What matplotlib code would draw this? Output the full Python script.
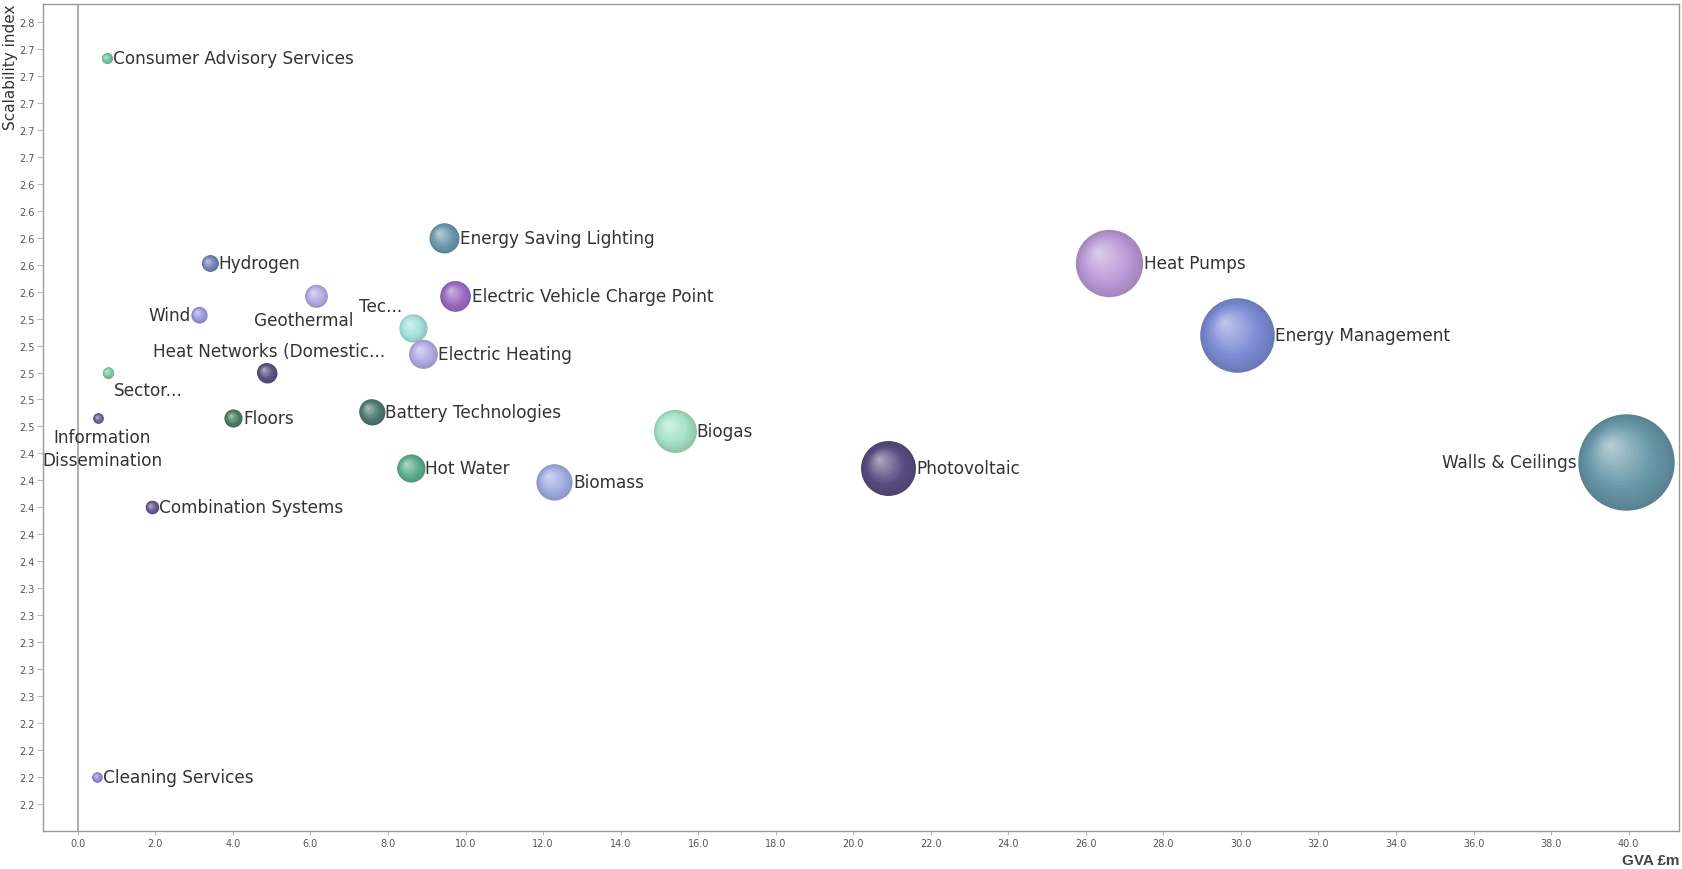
import numpy as np
import matplotlib
matplotlib.use("Agg")
from matplotlib import pyplot as plt
from matplotlib.colors import to_rgb
from matplotlib.ticker import FixedLocator, MultipleLocator, FormatStrFormatter
from matplotlib.transforms import offset_copy

# data
categories = ["Consumer Advisory Services", "Energy Saving Lighting", "Hydrogen", "Heat Pumps",
              "Geothermal", "Electric Vehicle Charge Point", "Wind", "Tec...", "Energy Management",
              "Electric Heating", "Sector...", "Heat Networks (Domestic...", "Battery Technologies",
              "Information\nDissemination", "Floors", "Biogas", "Walls & Ceilings", "Hot Water",
              "Photovoltaic", "Biomass", "Combination Systems", "Cleaning Services"]
gva = [0.75, 9.44, 3.40, 26.6, 6.15, 9.74, 3.13, 8.64, 29.9, 8.91, 0.78, 4.87, 7.58,
       0.53, 4.01, 15.39, 39.92, 8.58, 20.9, 12.29, 1.91, 0.50]
scalability = [2.733, 2.600, 2.581, 2.581, 2.557, 2.557, 2.543, 2.533, 2.528, 2.514, 2.500, 2.500,
               2.471, 2.466, 2.466, 2.457, 2.434, 2.429, 2.429, 2.419, 2.400, 2.200]

colors = ["#6fc2a0", "#6e98ae", "#7483b6", "#bb9ad8", "#b6abe2", "#9a6cc2", "#9c98e0", "#a6e2dc",
          "#7c8cd4", "#b2ace6", "#7ccaa8", "#5c5282", "#4e7a70", "#6c5c98", "#4f7c66", "#a6e3c6",
          "#6897a8", "#5cae8e", "#594c80", "#a0ade2", "#675890", "#9884d6"]

# label placement: (dx, dy) in px, ha ; None -> right of bubble
placement = {
    "Wind": "left",
    "Walls & Ceilings": "left",
    "Geothermal": (-13, -24, "center"),
    "Tec...": (-11, 22, "right"),
    "Heat Networks (Domestic...": (2, 22, "center"),
    "Sector...": (6, -17, "left"),
    "Information\nDissemination": (4, -30, "center"),
}

px2pt = 0.72  # dpi 100


def radius_px(v):
    # bubble radius grows linearly with GVA
    return 4.7 + 1.09 * v


fig = plt.figure(figsize=(16.82, 8.70), dpi=100)
ax = fig.add_axes([43 / 1682, 1 - 832 / 870, 1636 / 1682, 827 / 870])
ax.set_xlim(-0.9, 41.3)
ax.set_ylim(2.16, 2.7733)

ax.axvline(0, color="#a0a0a0", lw=1.2, zorder=1)


def draw_bubble(x, y, r_pt, color):
    base = np.array(to_rgb(color))
    dark = base * 0.87
    light = base + (1 - base) * 0.55
    n = 18
    for i in range(n):
        t = i / n
        rr = r_pt * (1 - t)
        off = r_pt * 0.35 * t
        if t < 0.3:
            c = dark + (base - dark) * (t / 0.3)
        else:
            c = base + (light - base) * ((t - 0.3) / 0.7)
        tr = offset_copy(ax.transData, fig=fig, x=-off, y=off, units="points")
        ax.plot([x], [y], "o", ms=2 * rr, color=np.clip(c, 0, 1), mew=0, transform=tr, zorder=3)


for name, x, y, col in zip(categories, gva, scalability, colors):
    r_pt = radius_px(x) * px2pt
    draw_bubble(x, y, r_pt, col)
    p = placement.get(name)
    if p is None:
        xy_off, ha = (r_pt + 0.5, 0), "left"
    elif p == "left":
        xy_off, ha = (-r_pt - 0.5, 0), "right"
    else:
        xy_off, ha = (p[0] * px2pt, p[1] * px2pt), p[2]
    ax.annotate(name, (x, y), xytext=xy_off, textcoords="offset points", ha=ha, va="center",
                multialignment="center", fontsize=12.2, color="#333333", zorder=5,
                linespacing=1.4, annotation_clip=False)

ax.xaxis.set_major_locator(MultipleLocator(2))
ax.xaxis.set_major_formatter(FormatStrFormatter("%.1f"))
ax.yaxis.set_major_locator(FixedLocator(np.arange(2.18, 2.77, 0.02)))
ax.yaxis.set_major_formatter(FormatStrFormatter("%.1f"))
ax.tick_params(axis="both", labelsize=7, labelcolor="#555555", color="#bbbbbb", length=4, width=0.8)
ax.tick_params(axis="x", length=3, pad=2)
ax.tick_params(axis="y", pad=2)
for s in ax.spines.values():
    s.set_color("#999999")
    s.set_linewidth(1.0)

fig.text(11 / 1682, 1 - 5 / 870, "Scalability index", rotation=90, ha="center", va="top",
         fontsize=11, color="#333333")
fig.text(1679 / 1682, 1 - 861 / 870, "GVA £m", ha="right", va="center", fontsize=11,
         weight="bold", color="#444444", family="Liberation Sans")

fig.savefig("out.png", dpi=100, facecolor="white")
